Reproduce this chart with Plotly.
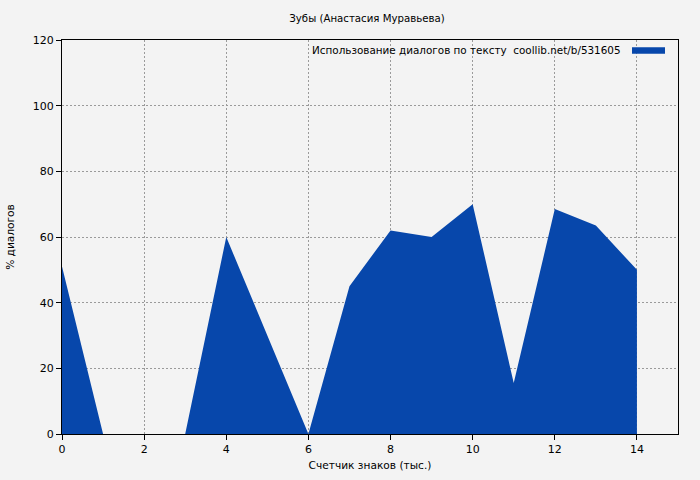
import plotly.graph_objects as go

x_vals = list(range(0, 15))
y_vals = [51, 0, 0, 0, 60, 30, 0, 45, 62, 60, 70, 15.5, 68.5, 63.5, 50]
title = "Зубы (Анастасия Муравьева)"
legend_label = "Использование диалогов по тексту  coollib.net/b/531605"
x_title = "Счетчик знаков (тыс.)"
y_title = "% диалогов"

blue = "#0747ab"
bg = "#f3f3f3"
font = "DejaVu Sans"
grid = "#9a9a9a"

fig = go.Figure()
fig.add_trace(go.Scatter(x=x_vals, y=y_vals, mode="none", fill="tozeroy",
                         fillcolor=blue, showlegend=False, hoverinfo="x+y"))

fig.update_layout(
    width=700, height=480,
    paper_bgcolor=bg, plot_bgcolor=bg,
    margin=dict(l=62, r=22, t=40, b=46),
    font=dict(family=font, size=11, color="#000"),
    title=dict(text=title, x=367 / 700, xanchor="center", y=1 - 18 / 480, yanchor="middle",
               font=dict(family=font, size=10.2)),
    showlegend=False,
)
fig.update_xaxes(range=[0, 15], tickvals=list(range(0, 15, 2)),
                 showline=True, linecolor="black", linewidth=1, mirror=True,
                 ticks="outside", ticklen=5, tickcolor="black",
                 showgrid=True, gridcolor=grid, griddash="2px,2px", gridwidth=1,
                 zeroline=False, automargin=False,
                 title=dict(text=x_title, standoff=6, font=dict(size=10.6)))
fig.update_yaxes(range=[0, 120], tickvals=list(range(0, 121, 20)),
                 showline=True, linecolor="black", linewidth=1, mirror=True,
                 ticks="outside", ticklen=5, tickcolor="black",
                 showgrid=True, gridcolor=grid, griddash="2px,2px", gridwidth=1,
                 zeroline=False, automargin=False,
                 title=dict(text=y_title, standoff=16, font=dict(size=10.6)))

fig.add_annotation(text=legend_label, xref="paper", yref="paper",
                   x=(623 - 62) / 616, y=(434 - 50) / 394, xanchor="right", yanchor="middle",
                   showarrow=False, font=dict(family=font, size=10.4))
fig.add_shape(type="rect", xref="paper", yref="paper",
              x0=(632 - 62) / 616, x1=(665 - 62) / 616,
              y0=(434 - 53.7) / 394, y1=(434 - 47.3) / 394,
              fillcolor=blue, line=dict(width=0))

fig.write_html("out.html", config={"displayModeBar": False},
               post_script="document.body.style.margin='0';")
